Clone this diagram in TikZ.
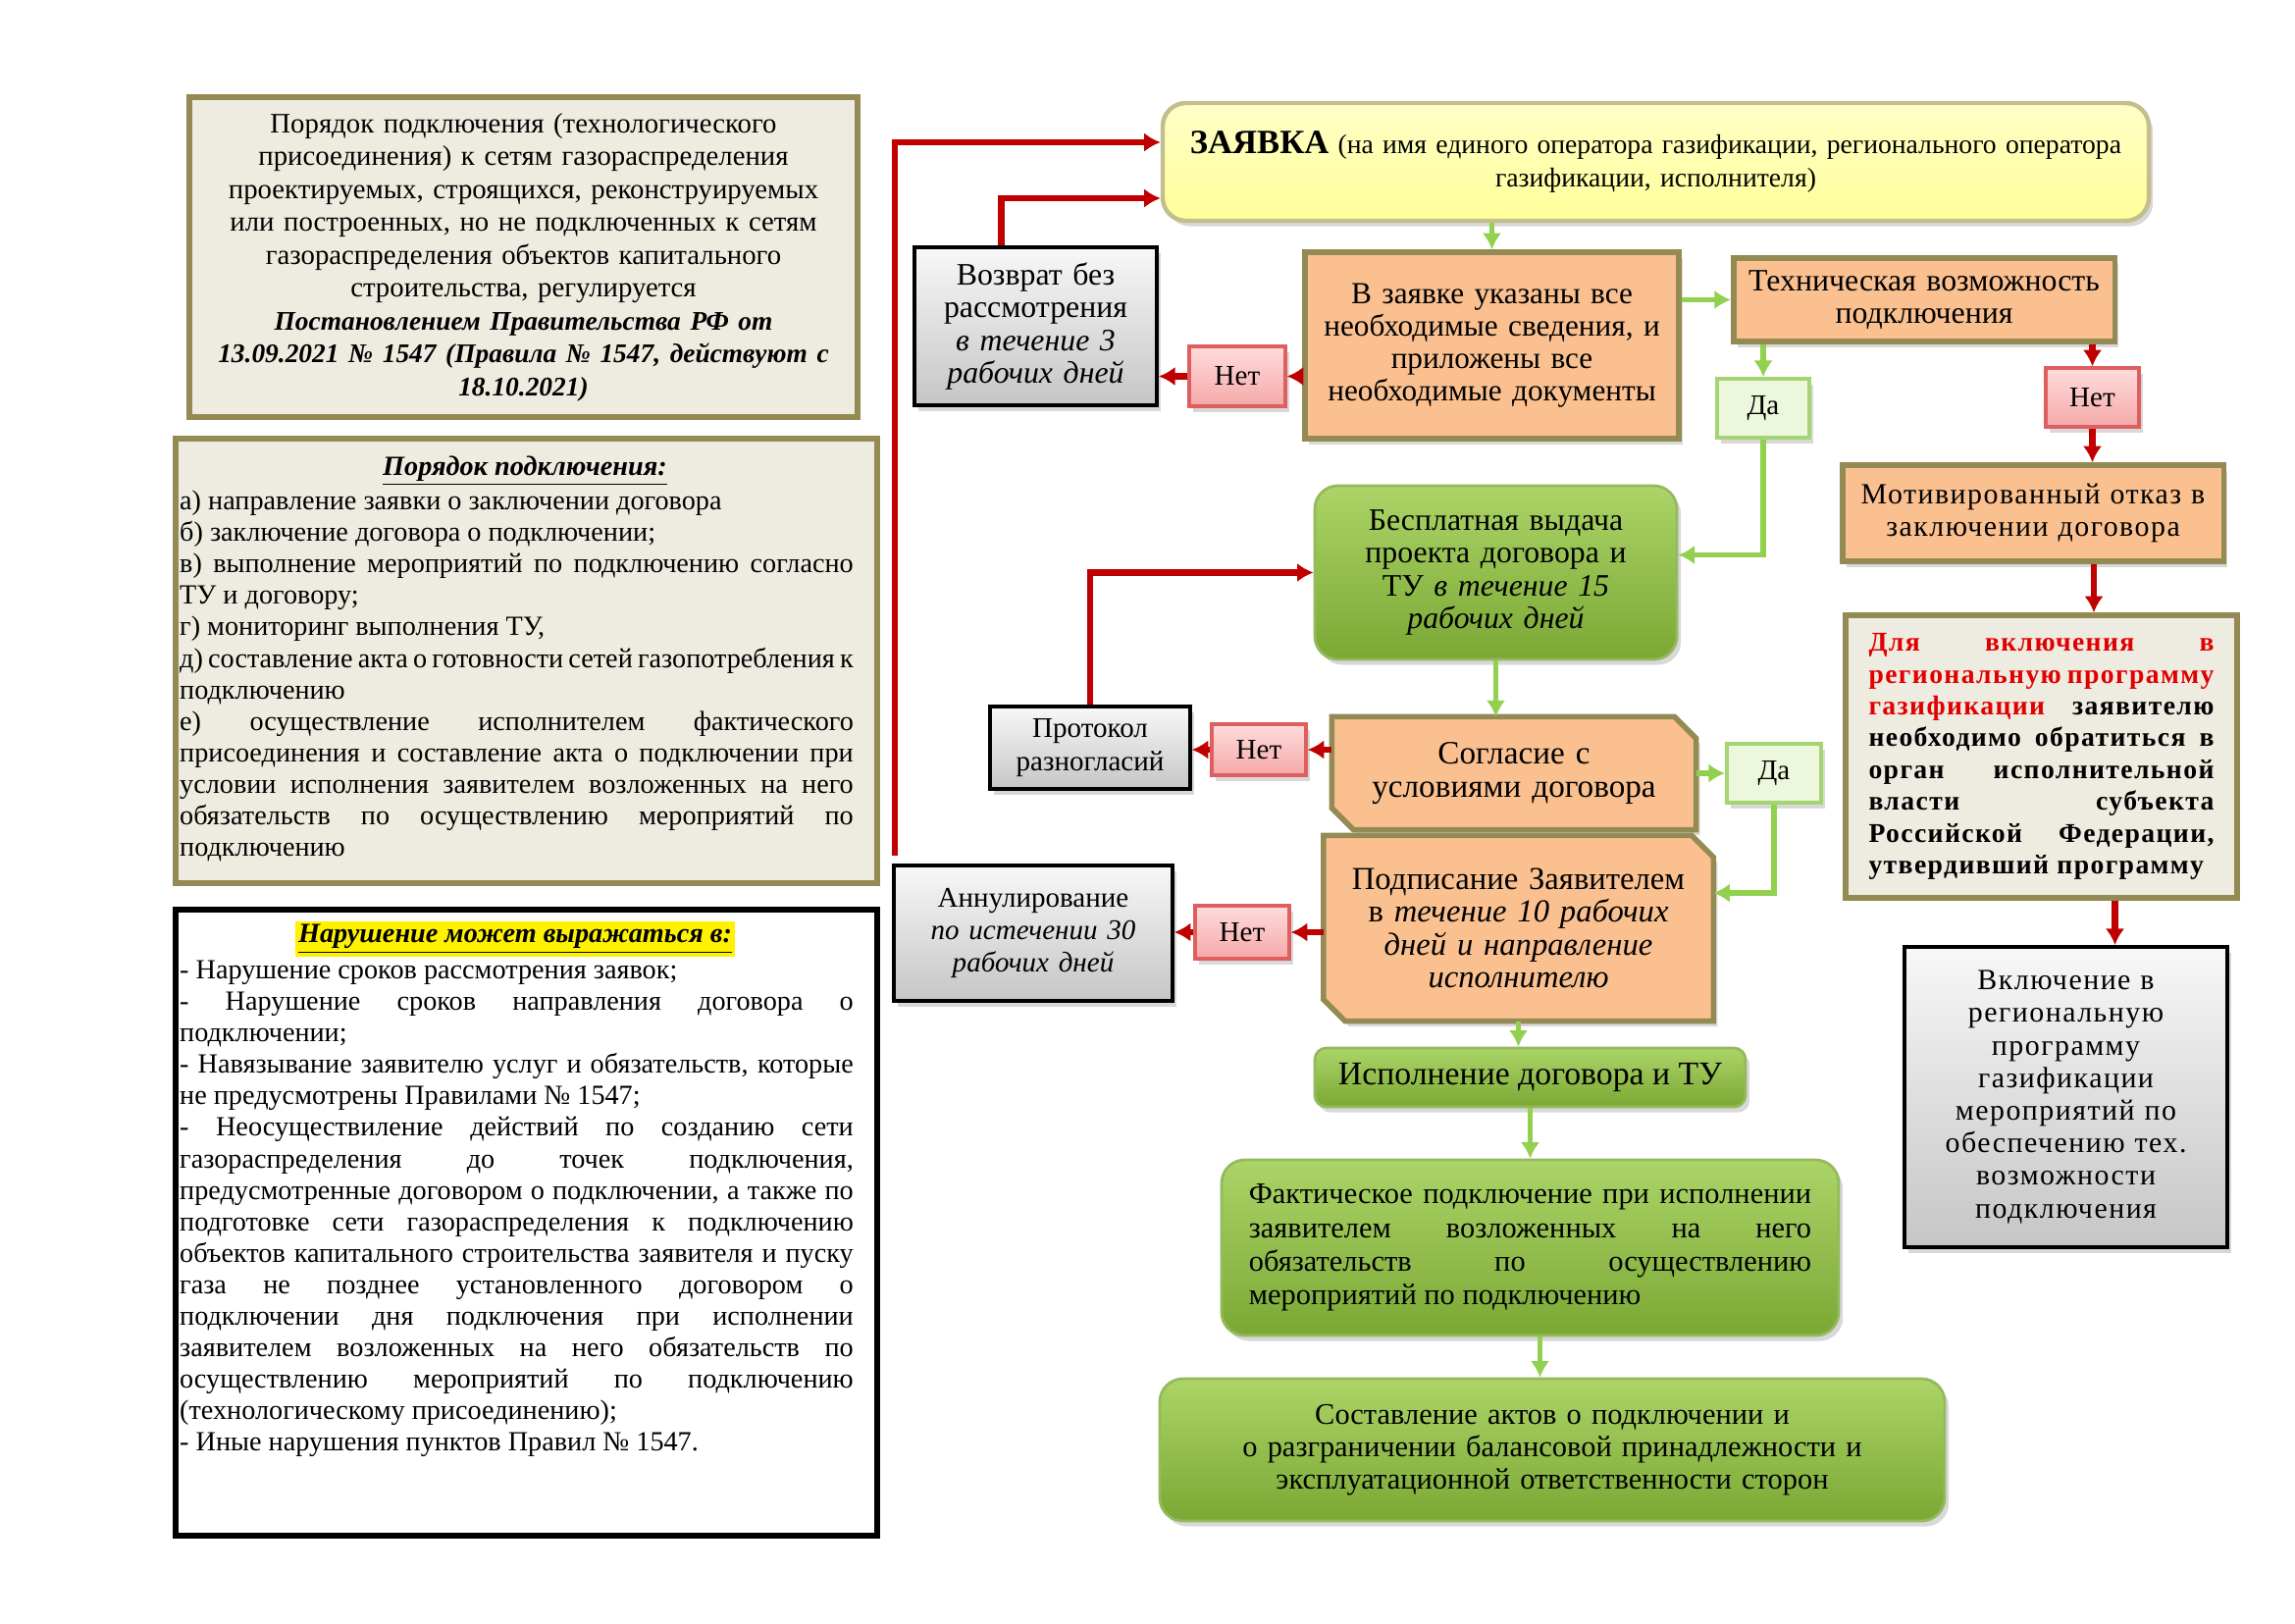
\documentclass[tikz,border=0pt]{standalone}
\usepackage{fontspec}
\setmainfont{Liberation Serif}
\newfontfamily\widefont[LetterSpace=5]{Liberation Serif}
\usetikzlibrary{arrows.meta,shadows,backgrounds,calc}
\setlength\parindent{0pt}

\definecolor{olive}{RGB}{148,138,84}
\definecolor{beige}{RGB}{238,236,225}
\definecolor{peach}{RGB}{250,192,144}
\definecolor{darkred}{RGB}{192,0,0}
\definecolor{textred}{RGB}{225,0,0}
\definecolor{leaf}{RGB}{146,208,80}
\definecolor{leafdark}{RGB}{122,168,52}
\definecolor{leaflight}{RGB}{172,212,104}
\definecolor{lemon}{RGB}{255,255,153}
\newcommand{\pxu}{0.127mm}

\tikzset{>={Latex[length=6pt,width=7pt]}}
\tikzset{
  yesarrow/.style={->, line width=2pt, leaf},
  noarrow/.style={->, line width=2.2pt, darkred},
  softshadow/.style={drop shadow={opacity=0.3, shadow xshift=1.5pt, shadow yshift=-2pt}},
  infobox/.style={draw=olive, line width=2.2pt, fill=beige},
  orangebox/.style={draw=olive, line width=2pt, fill=peach, softshadow},
  greenbox/.style={draw=leafdark!80, line width=1pt, rounded corners=3mm,
    top color=leaflight, bottom color=leafdark, softshadow},
  graybox/.style={draw=black, line width=1.4pt, top color=gray!6, bottom color=gray!45, softshadow},
  netbox/.style={draw={rgb,255:red,222;green,95;blue,95}, line width=1.2pt,
    top color={rgb,255:red,255;green,220;blue,220}, bottom color={rgb,255:red,245;green,168;blue,168},
    softshadow, font=\fontsize{10.5}{12}\selectfont},
  dabox/.style={draw={rgb,255:red,165;green,212;blue,115}, line width=1.4pt,
    fill={rgb,255:red,236;green,247;blue,220}, softshadow, font=\fontsize{10.5}{12}\selectfont},
  body/.style={font=\fontsize{10.2}{11.6}\selectfont},
}

\begin{document}
\begin{tikzpicture}[x=0.127mm, y=-0.127mm]
  \useasboundingbox (0,0) rectangle (2339,1654);
  \begin{scope}[on background layer]
    \fill[white] (0,0) rectangle (2339,1654);
  \end{scope}
  \pgfmathsetmacro{\cut}{22};
  % left column
  \node[infobox, inner xsep=2pt, minimum width=679*\pxu, minimum height=326*\pxu, text width=85mm, align=center,
    font=\fontsize{10.4}{12.1}\selectfont] (intro) at (533.5,262)
    {Порядок подключения (технологического\\ присоединения) к сетям газораспределения\\
     проектируемых, строящихся, реконструируемых\\ или построенных, но не подключенных к сетям\\
     газораспределения объектов капитального\\ строительства, регулируется\\
     {\bfseries\itshape\fontsize{9.9}{12.1}\selectfont Постановлением Правительства РФ от\\ 13.09.2021 № 1547 (Правила № 1547, действуют с\\ 18.10.2021)}};
  \node[infobox, line width=2pt, minimum width=715*\pxu, minimum height=453*\pxu] (order) at (536.5,673.5) {};
  \node[body] (ordertitle) at (535,480) {\underline{\bfseries\itshape Порядок подключения:}};
  \node[body, text width=87.2mm, align=justify] (ordertext) at (526.5,689)
    {а) направление заявки о заключении договора\\
     б) заключение договора о подключении;\\
     в) выполнение мероприятий по подключению согласно\linebreak ТУ и договору;\\
     г) мониторинг выполнения ТУ,\\
     д) составление акта о готовности сетей газопотребления к\linebreak подключению\\
     е) осуществление исполнителем фактического\linebreak присоединения и составление акта о подключении при\linebreak
     условии исполнения заявителем возложенных на него\linebreak обязательств по осуществлению мероприятий по\linebreak подключению};
  \node[draw=black, line width=2.4pt, fill=white, minimum width=715*\pxu, minimum height=638*\pxu] (viol) at (536.5,1246) {};
  \node[body] (violtitle) at (525,957)
    {\setlength\fboxsep{1pt}\colorbox{yellow}{\underline{\bfseries\itshape Нарушение может выражаться в:}}};
  \node[body, text width=87.2mm, align=justify] (violtext) at (526.5,1232)
    {- Нарушение сроков рассмотрения заявок;\\
     - Нарушение сроков направления договора о\linebreak подключении;\\
     - Навязывание заявителю услуг и обязательств, которые\linebreak не предусмотрены Правилами № 1547;\\
     - Неосуществиление действий по созданию сети\linebreak газораспределения до точек подключения,\linebreak
     предусмотренные договором о подключении, а также по\linebreak подготовке сети газораспределения к подключению\linebreak
     объектов капитального строительства заявителя и пуску\linebreak газа не позднее установленного договором о\linebreak
     подключении дня подключения при исполнении\linebreak заявителем возложенных на него обязательств по\linebreak
     осуществлению мероприятий по подключению\linebreak (технологическому присоединению);\\
     - Иные нарушения пунктов Правил № 1547.};
  % application
  \node[draw={rgb,255:red,196;green,189;blue,140}, line width=1.6pt, rounded corners=3mm,
    top color=lemon!55, bottom color=lemon, softshadow, inner xsep=1pt,
    minimum width=1005*\pxu, minimum height=120*\pxu, text width=126mm, align=center,
    font=\fontsize{10}{12.4}\selectfont] (zayavka) at (1687.5,165)
    {{\fontsize{12.5}{12.4}\selectfont\bfseries ЗАЯВКА} (на имя единого оператора газификации, регионального оператора\\ газификации, исполнителя)};
  \node[graybox, minimum width=247*\pxu, minimum height=161*\pxu, text width=29mm, align=center,
    font=\fontsize{11.5}{12}\selectfont] (vozvrat) at (1055.5,332.5)
    {Возврат без\\ рассмотрения\\ \textit{в течение 3\\ рабочих дней}};
  \node[netbox, minimum width=98*\pxu, minimum height=61*\pxu] (net1) at (1261,383.5) {Нет};
  \node[orangebox, minimum width=373*\pxu, minimum height=190*\pxu, text width=46mm, align=center,
    font=\fontsize{11.3}{12}\selectfont] (check) at (1520.5,352)
    {В заявке указаны все\\ необходимые сведения, и\\ приложены все\\ необходимые документы};
  \node[orangebox, minimum width=378*\pxu, minimum height=85*\pxu, text width=47mm, align=center,
    font=\fontsize{11.5}{12}\selectfont] (tech) at (1961,305.5)
    {Техническая возможность\\ подключения};
  \node[dabox, minimum width=94*\pxu, minimum height=60*\pxu] (da1) at (1797,416) {Да};
  \node[netbox, minimum width=95*\pxu, minimum height=60*\pxu] (net2) at (2132.5,405) {Нет};
  % right column
  \node[orangebox, minimum width=380*\pxu, minimum height=98*\pxu, text width=47mm, align=center,
    font=\widefont\fontsize{10.8}{12}\selectfont] (refuse) at (2072,523)
    {Мотивированный отказ в\\ заключении договора};
  \node[infobox, line width=2pt, minimum width=399*\pxu, minimum height=288*\pxu, text width=44.7mm, align=justify,
    font=\widefont\bfseries\fontsize{10}{11.7}\selectfont] (regprog) at (2080.5,771)
    {\textcolor{textred}{Для включения в\linebreak региональную программу\linebreak газификации} заявителю\linebreak
     необходимо обратиться в\linebreak орган исполнительной\linebreak власти субъекта\linebreak
     Российской Федерации,\linebreak утвердивший программу};
  \node[graybox, minimum width=329*\pxu, minimum height=306*\pxu, text width=39.4mm, align=center,
    font=\widefont\fontsize{10.8}{12}\selectfont] (incl) at (2105.5,1118)
    {Включение в\\ региональную\\ программу\\ газификации\\ мероприятий по\\ обеспечению тех.\\ возможности\\ подключения};
  % contract
  \node[greenbox, minimum width=369*\pxu, minimum height=177*\pxu, text width=44.5mm, align=center,
    font=\fontsize{11.5}{12.1}\selectfont] (draft) at (1524.5,583.5)
    {Бесплатная выдача\\ проекта договора и\\ ТУ \textit{в течение 15\\ рабочих дней}};
  \node[graybox, minimum width=194*\pxu, minimum height=84*\pxu, text width=23.5mm, align=center,
    font=\fontsize{10.5}{12}\selectfont] (protocol) at (1111,762)
    {Протокол\\ разногласий};
  \node[netbox, minimum width=96*\pxu, minimum height=52*\pxu] (net3) at (1283,764) {Нет};
  \node[minimum width=370*\pxu, minimum height=114*\pxu, text width=44.5mm, align=center,
    font=\fontsize{12}{12.2}\selectfont] (agree) at (1543,788)
    {Согласие с\\ условиями договора};
  \node[dabox, minimum width=96*\pxu, minimum height=60*\pxu] (da2) at (1808,788) {Да};
  \node[minimum width=391*\pxu, minimum height=188*\pxu, text width=48mm, align=center,
    font=\fontsize{11.8}{12.1}\selectfont] (sign) at (1547.5,946)
    {Подписание Заявителем\\ в \textit{течение 10 рабочих\\ дней и направление\\ исполнителю}};
  \begin{scope}[on background layer]
    \foreach \n in {agree,sign}
      \draw[orangebox] (\n.north west) -- ([xshift=-\cut*\pxu]\n.north east) -- ([yshift=-\cut*\pxu]\n.north east)
        -- (\n.south east) -- ([xshift=\cut*\pxu]\n.south west) -- ([yshift=\cut*\pxu]\n.south west) -- cycle;
  \end{scope}
  \node[graybox, minimum width=276*\pxu, minimum height=138*\pxu, text width=33.7mm, align=center,
    font=\fontsize{10.5}{12}\selectfont] (annul) at (1053,951)
    {Аннулирование\\ \textit{по истечении 30\\ рабочих дней}};
  \node[netbox, minimum width=96*\pxu, minimum height=54*\pxu] (net4) at (1266,950) {Нет};
  \node[greenbox, rounded corners=1.5mm, minimum width=439*\pxu, minimum height=60*\pxu,
    font=\fontsize{12.2}{12.2}\selectfont] (exec) at (1559.5,1098) {Исполнение договора и ТУ};
  \node[greenbox, minimum width=629*\pxu, minimum height=179*\pxu, text width=72.8mm, align=justify,
    font=\fontsize{11}{12.4}\selectfont] (connect) at (1559.5,1271.5)
    {Фактическое подключение при исполнении\linebreak заявителем возложенных на него\linebreak
     обязательств по осуществлению\linebreak мероприятий по подключению};
  \node[greenbox, minimum width=800*\pxu, minimum height=145*\pxu, text width=99mm, align=center,
    font=\fontsize{11}{12}\selectfont] (acts) at (1582,1477.5)
    {Составление актов о подключении и\\ о разграничении балансовой принадлежности и\\ эксплуатационной ответственности сторон};
  % connectors
  \draw[yesarrow] (zayavka.south -| check.north) -- (check.north);
  \draw[noarrow] (check.west |- net1.east) -- (net1.east);
  \draw[noarrow] (net1.west) -- (vozvrat.east |- net1.west);
  \draw[noarrow] ([xshift=-35*\pxu]vozvrat.north) |- ([yshift=-37*\pxu]zayavka.west);
  \draw[noarrow] ([xshift=3*\pxu, yshift=8*\pxu]annul.north west) |- ([yshift=20*\pxu]zayavka.west);
  \draw[yesarrow] (check.east |- tech.west) -- (tech.west);
  \draw[yesarrow] (da1.north |- tech.south) -- (da1.north);
  \draw[yesarrow] (da1.south) |- ([yshift=18*\pxu]draft.east);
  \draw[noarrow] (net2.north |- tech.south) -- (net2.north);
  \draw[noarrow] (net2.south) -- (net2.south |- refuse.north);
  \draw[noarrow] ([xshift=62*\pxu]refuse.south) -- ([xshift=62*\pxu]refuse.south |- regprog.north);
  \draw[noarrow] ([xshift=50*\pxu]incl.north |- regprog.south) -- ([xshift=50*\pxu]incl.north);
  \draw[yesarrow] (draft.south) -- (draft.south |- agree.north);
  \draw[noarrow] (agree.west |- net3.east) -- (net3.east);
  \draw[noarrow] (net3.west) -- (protocol.east |- net3.west);
  \draw[noarrow] (protocol.north) |- (draft.west);
  \draw[yesarrow] (agree.east) -- (da2.west);
  \draw[yesarrow] (da2.south) |- ([yshift=36*\pxu]sign.east);
  \draw[noarrow] (sign.west |- net4.east) -- (net4.east);
  \draw[noarrow] (net4.west) -- (annul.east |- net4.west);
  \draw[yesarrow] (sign.south) -- (sign.south |- exec.north);
  \draw[yesarrow] (exec.south) -- (exec.south |- connect.north);
  \draw[yesarrow] ([xshift=10*\pxu]connect.south) -- ([xshift=10*\pxu]connect.south |- acts.north);
\end{tikzpicture}
\end{document}
